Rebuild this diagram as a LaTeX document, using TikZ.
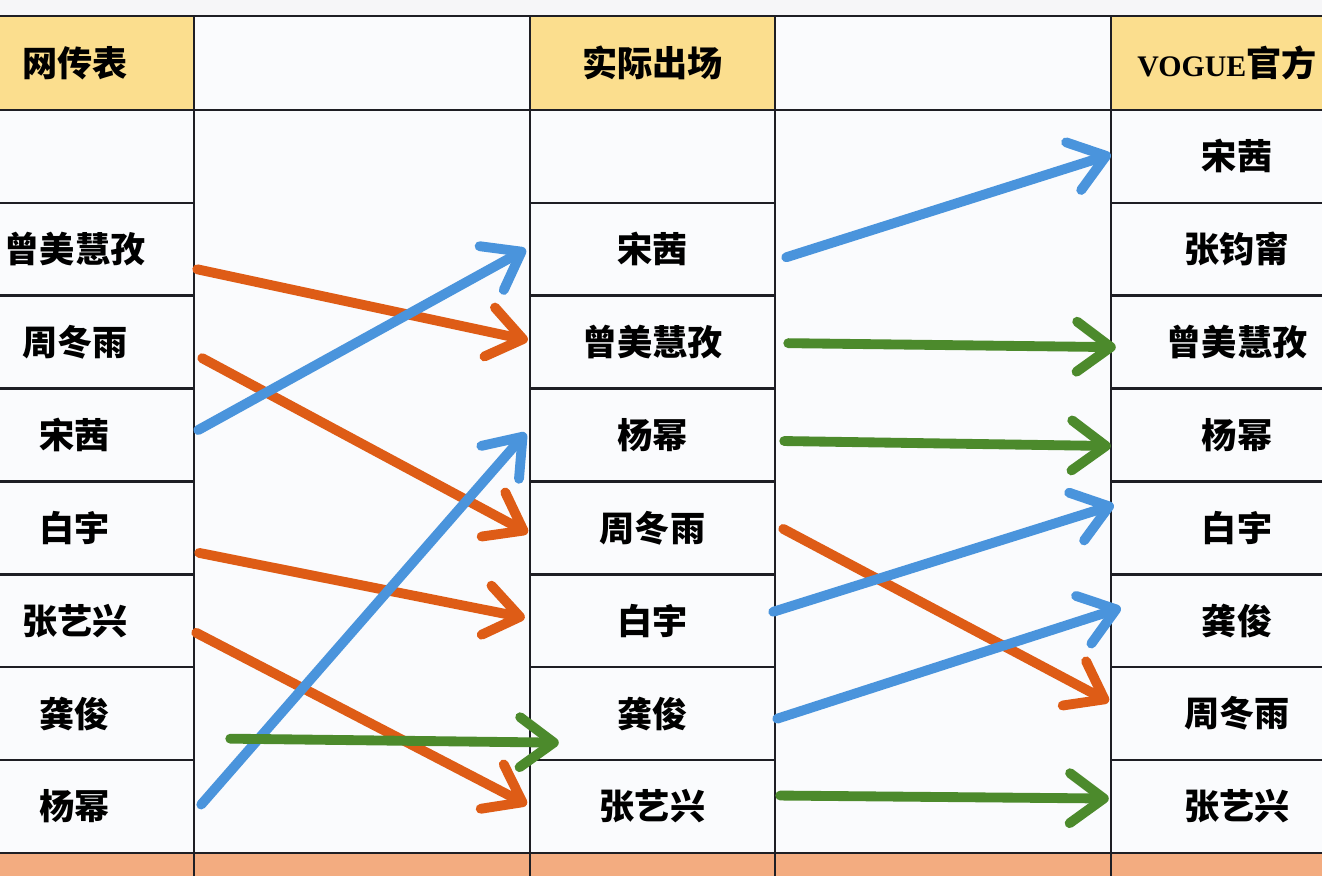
\documentclass[tikz,border=0pt]{standalone}
\usepackage{fontspec}
\newfontfamily\cjk{Noto Sans CJK SC}
\newfontfamily\latinserif{Liberation Serif}
\usetikzlibrary{arrows.meta,calc}
\definecolor{topgray}{RGB}{246,246,248}
\definecolor{cellwhite}{RGB}{250,251,253}
\definecolor{headyellow}{RGB}{251,222,142}
\definecolor{footorange}{RGB}{243,172,128}
\definecolor{gridblack}{RGB}{30,30,36}
\definecolor{moveblue}{RGB}{74,148,220}
\definecolor{moveorange}{RGB}{222,92,22}
\definecolor{keepgreen}{RGB}{76,138,44}

\tikzset{
  cell/.style={draw=gridblack, line width=0.7pt, fill=cellwhite, inner sep=0pt,
    minimum height=0.92875cm, font=\cjk\bfseries\fontsize{10pt}{12pt}\selectfont},
  headcell/.style={cell, minimum height=0.94cm},
  link/.style={line width=2.8pt, line cap=round,
    -{Straight Barb[length=0.34cm, width=0.5cm, round]}},
}

\begin{document}
\begin{tikzpicture}
        \useasboundingbox (0,0) rectangle (13.22,8.76);
        \clip (0,0) rectangle (13.22,8.76);
        \fill[topgray] (0,0) rectangle (13.22,8.76);

        % Header row
        \node[headcell, fill=headyellow, minimum width=2.38cm] (H1) at (0.75,8.13) {网传表};
        \node[headcell, minimum width=3.36cm] (H2) at (3.62,8.13) {};
        \node[headcell, fill=headyellow, minimum width=2.45cm] (H3) at (6.525,8.13) {实际出场};
        \node[headcell, minimum width=3.36cm] (H4) at (9.43,8.13) {};
        \node[headcell, fill=headyellow, minimum width=2.52cm] (H5) at (12.37,8.13)
          {\hspace*{-0.2cm}{\latinserif\bfseries\fontsize{8.5pt}{12pt}\selectfont VOGUE}官方};

        % Name columns
        \foreach \nm [count=\k] in {{},曾美慧孜,周冬雨,宋茜,白宇,张艺兴,龚俊,杨幂} {
          \node[cell, minimum width=2.38cm] (L\k) at (0.75,{7.66-(\k-0.5)*0.92875}) {\nm};
        }
        \foreach \nm [count=\k] in {{},宋茜,曾美慧孜,杨幂,周冬雨,白宇,龚俊,张艺兴} {
          \node[cell, minimum width=2.45cm] (M\k) at (6.525,{7.66-(\k-0.5)*0.92875}) {\nm};
        }
        \foreach \nm [count=\k] in {宋茜,张钧甯,曾美慧孜,杨幂,白宇,龚俊,周冬雨,张艺兴} {
          \node[cell, minimum width=2.52cm] (R\k) at (12.37,{7.66-(\k-0.5)*0.92875}) {\nm};
        }

        % Merged gap columns
        \node[cell, minimum width=3.36cm, minimum height=7.43cm] (G1) at (3.62,3.945) {};
        \node[cell, minimum width=3.36cm, minimum height=7.43cm] (G2) at (9.43,3.945) {};

        % Footer row
        \foreach \x/\w [count=\k] in {0.75/2.38,3.62/3.36,6.525/2.45,9.43/3.36,12.37/2.52} {
          \node[cell, fill=footorange, minimum width=\w cm, minimum height=0.8cm] (F\k) at (\x,-0.17) {};
        }

        % Orange moves
        \foreach \s/\sx/\sy/\e/\ex/\ey in {L2/0.02/-0.20/M3/-0.01/0.02, L3/0.07/-0.16/M5/-0.01/-0.05,
            L5/0.04/-0.25/M6/-0.04/0.03, L6/0.01/-0.12/M8/-0.02/0.02} {
          \draw[link, moveorange] ($(\s.east)+(\sx,\sy)$) -- ($(\e.west)+(\ex,\ey)$);
        }
        \draw[link, moveorange] ($(M5.east)+(0.07,-0.01)$) -- ($(R7.west)+(-0.01,0.12)$);

        % Blue moves
        \foreach \s/\sx/\sy/\e/\ex/\ey in {L4/0.03/0.05/M2/-0.03/0.0, L8/0.06/0.02/M4/-0.03/0.02} {
          \draw[link, moveblue] ($(\s.east)+(\sx,\sy)$) -- ($(\e.west)+(\ex,\ey)$);
        }
        \foreach \s/\sx/\sy/\e/\ex/\ey in {M2/0.10/-0.08/R1/0.01/0.02, M6/-0.03/0.09/R5/0.04/0.23,
            M7/0.01/-0.05/R6/0.11/0.13} {
          \draw[link, moveblue] ($(\s.east)+(\sx,\sy)$) -- ($(\e.west)+(\ex,\ey)$);
        }

        % Green stays
        \draw[link, keepgreen] ($(L7.east)+(0.35,-0.25)$) -- ($(M7.west)+(0.30,-0.29)$);
        \foreach \s/\sx/\sy/\e/\ex/\ey in {M3/0.12/-0.01/R3/0.06/-0.05, M4/0.08/-0.06/R4/0.01/-0.11,
            M8/0.04/0.11/R8/-0.01/0.08} {
          \draw[link, keepgreen] ($(\s.east)+(\sx,\sy)$) -- ($(\e.west)+(\ex,\ey)$);
        }
\end{tikzpicture}
\end{document}
